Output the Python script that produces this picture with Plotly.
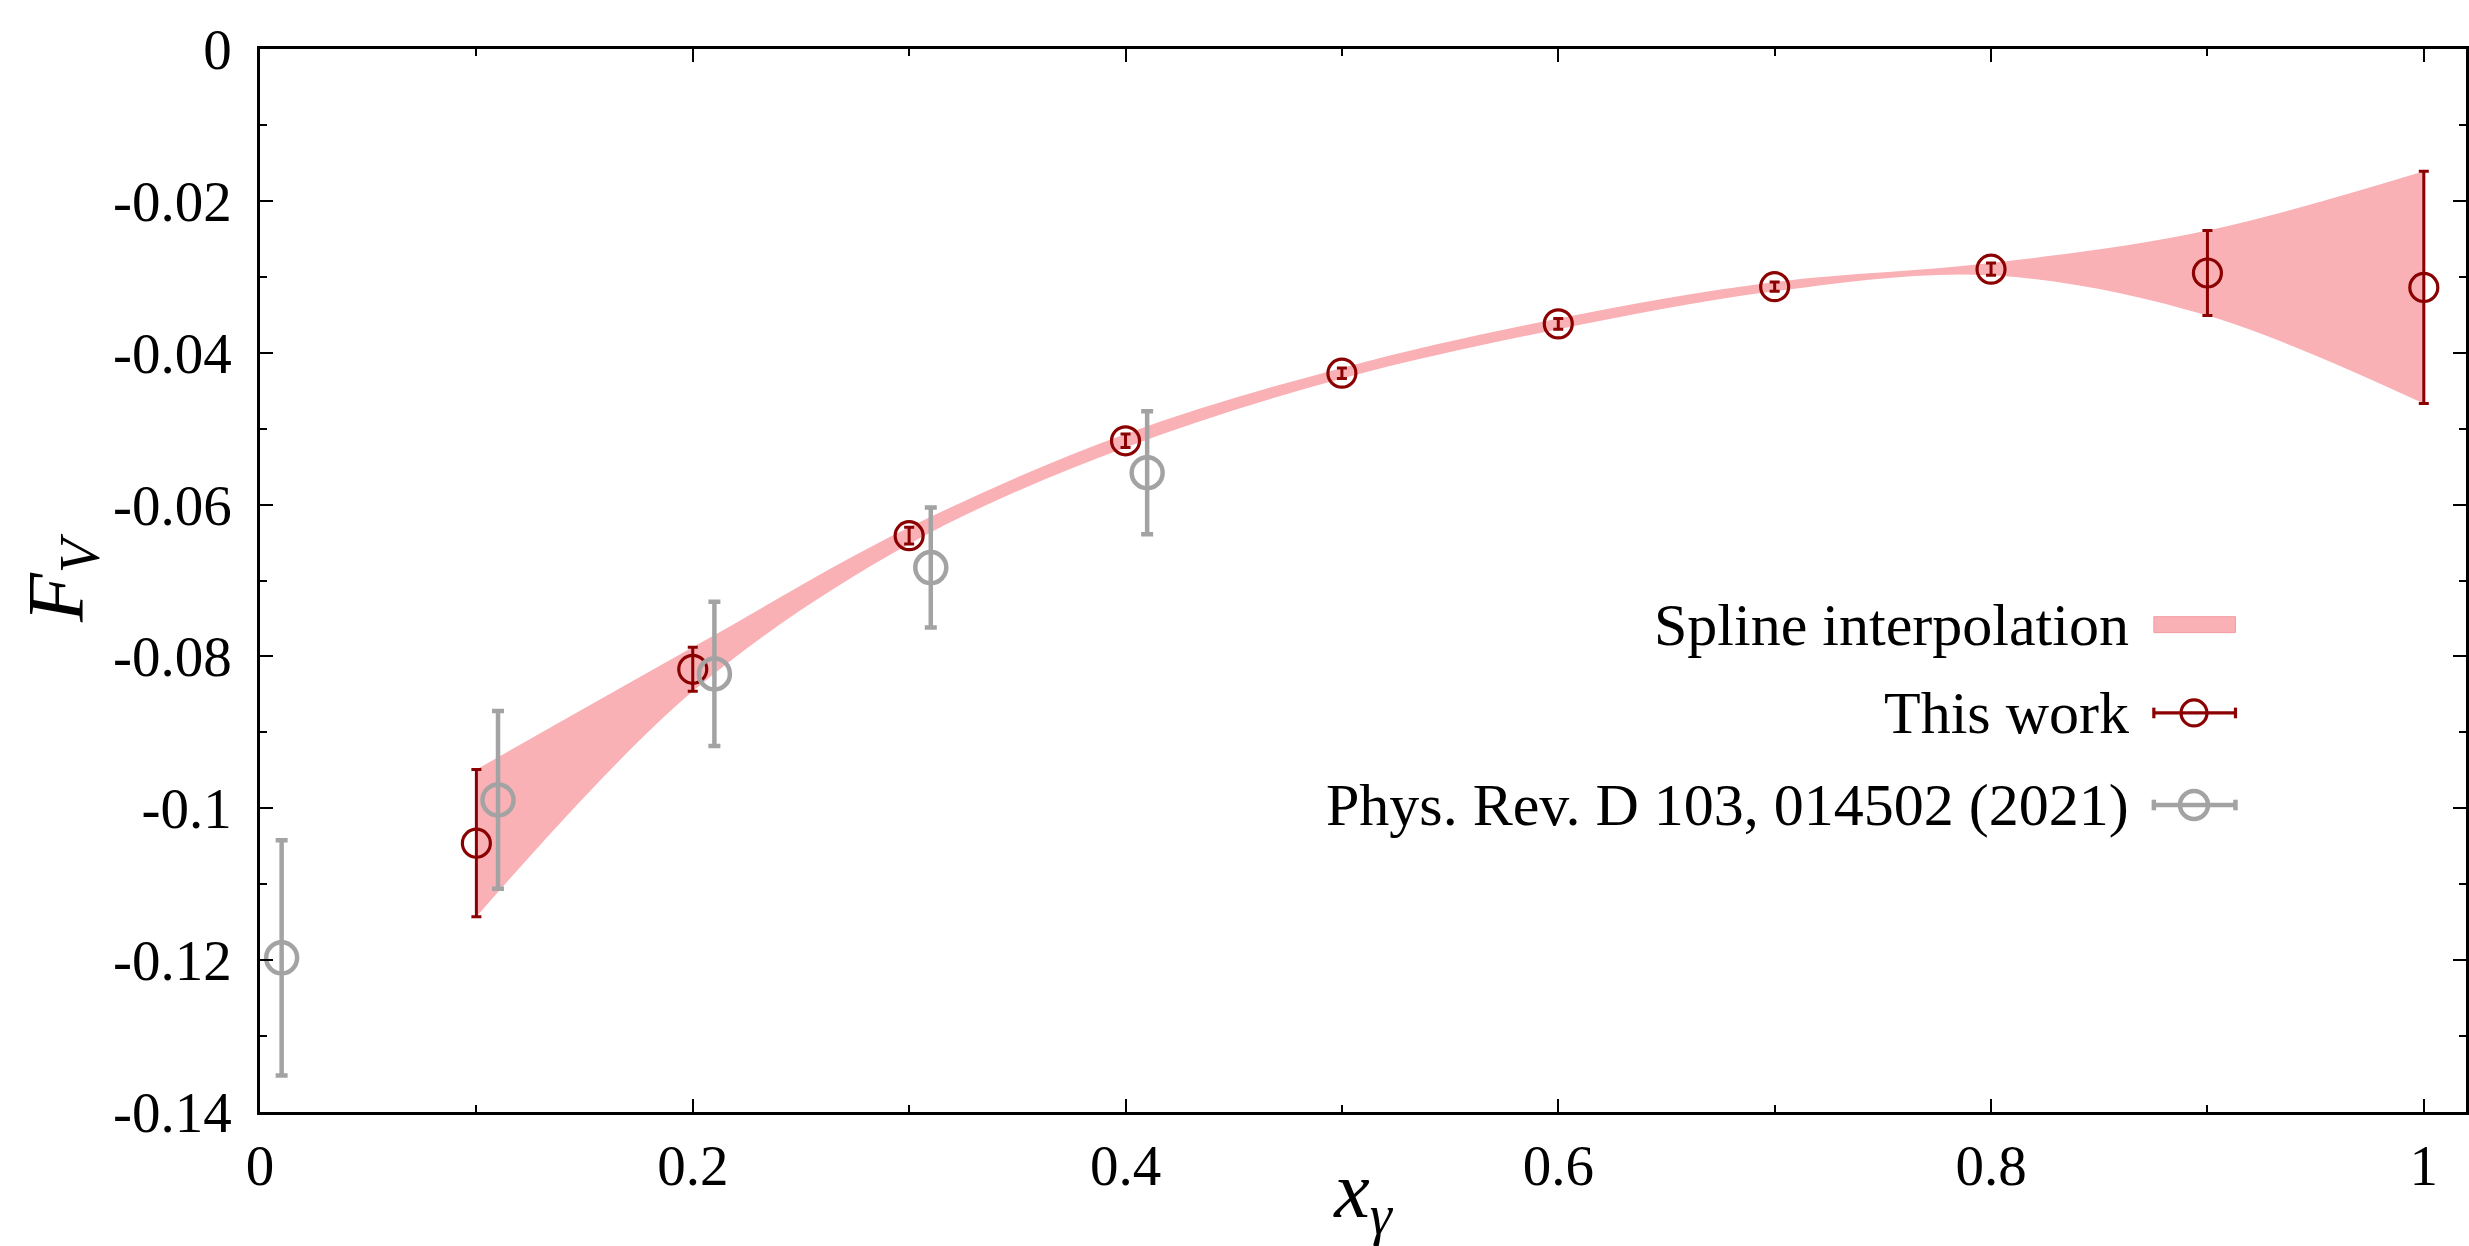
import plotly.graph_objects as go

# ---- data -------------------------------------------------------------
# This work: F_V(x_gamma) with statistical errors
x_this = [0.1, 0.2, 0.3, 0.4, 0.5, 0.6, 0.7, 0.8, 0.9, 1.0]
f_this = [-0.1046, -0.0817, -0.0641, -0.0516, -0.0427, -0.0362, -0.0313, -0.0290, -0.0295, -0.0314]
err_this = [0.0097, 0.0029, 0.0011, 0.0009, 0.0007, 0.0007, 0.0006, 0.0008, 0.0056, 0.0153]

# Phys. Rev. D 103, 014502 (2021), drawn slightly shifted in x
x_prd = [0.01, 0.11, 0.21, 0.31, 0.41]
f_prd = [-0.1197, -0.0989, -0.0823, -0.0683, -0.0558]
err_prd = [0.0155, 0.0117, 0.0095, 0.0079, 0.0081]

y_ticks = [0, -0.02, -0.04, -0.06, -0.08, -0.1, -0.12, -0.14]
y_ticktext = ["0", "-0.02", "-0.04", "-0.06", "-0.08", "-0.1", "-0.12", "-0.14"]
x_ticks = [0, 0.2, 0.4, 0.6, 0.8, 1.0]
x_ticktext = ["0", "0.2", "0.4", "0.6", "0.8", "1"]

labels = ["Spline interpolation", "This work", "Phys. Rev. D 103, 014502 (2021)"]

# ---- styles -----------------------------------------------------------
RED = "#8b0000"
GREY = "#a3a3a3"
BAND = "#f9b1b5"
FONT = "Liberation Serif"

band_hi = [f + e for f, e in zip(f_this, err_this)]
band_lo = [f - e for f, e in zip(f_this, err_this)]

fig = go.Figure()

# spline band (lower edge, then upper edge filled down to it)
fig.add_trace(go.Scatter(
    x=x_this, y=band_lo, mode="lines",
    line=dict(width=0, shape="spline", smoothing=1.0, color=BAND),
    hoverinfo="skip", showlegend=False,
))
fig.add_trace(go.Scatter(
    x=x_this, y=band_hi, mode="lines", fill="tonexty", fillcolor=BAND,
    line=dict(width=0, shape="spline", smoothing=1.0, color=BAND),
    hoverinfo="skip", showlegend=False,
))

# this work
fig.add_trace(go.Scatter(
    x=x_this, y=f_this, mode="markers",
    marker=dict(symbol="circle-open", size=28, color=RED, line=dict(width=3.2, color=RED)),
    error_y=dict(type="data", array=err_this, visible=True, color=RED, thickness=3, width=5),
    showlegend=False,
))

# earlier result
fig.add_trace(go.Scatter(
    x=x_prd, y=f_prd, mode="markers",
    marker=dict(symbol="circle-open", size=31, color=GREY, line=dict(width=4.5, color=GREY)),
    error_y=dict(type="data", array=err_prd, visible=True, color=GREY, thickness=4.5, width=6),
    showlegend=False,
))

# ---- hand-made legend (text on the left, symbol on the right) ----------
leg_rows = [0.4585, 0.3754, 0.2888]
sym_x0, sym_x1, sym_xc = 0.8585, 0.8955, 0.8767
text_x = 0.848
shapes = []
annotations = []
for lab, yr in zip(labels, leg_rows):
    annotations.append(dict(
        xref="paper", yref="paper", x=text_x, y=yr, xanchor="right", yanchor="middle",
        text=lab, showarrow=False, font=dict(family=FONT, size=60, color="black"),
    ))

# band swatch
shapes.append(dict(type="rect", xref="paper", yref="paper",
                   x0=sym_x0, x1=sym_x1, y0=leg_rows[0] - 0.0075, y1=leg_rows[0] + 0.0075,
                   fillcolor=BAND, line=dict(width=1, color="#f39ca2")))
# point + horizontal bar swatches
for yr, col, lw, r in [(leg_rows[1], RED, 3.2, 13), (leg_rows[2], GREY, 4.5, 14)]:
    shapes.append(dict(type="line", xref="paper", yref="paper",
                       x0=sym_x0, x1=sym_x1, y0=yr, y1=yr, line=dict(color=col, width=lw)))
    for xe in (sym_x0, sym_x1):
        shapes.append(dict(type="line", xref="paper", yref="paper",
                           x0=xe, x1=xe, y0=yr - 0.005, y1=yr + 0.005, line=dict(color=col, width=lw)))
    shapes.append(dict(type="circle", xref="paper", yref="paper",
                       xsizemode="pixel", ysizemode="pixel", xanchor=sym_xc, yanchor=yr,
                       x0=-r, x1=r, y0=-r, y1=r, line=dict(color=col, width=lw),
                       fillcolor="rgba(0,0,0,0)"))

axis_common = dict(
    showline=True, linecolor="black", linewidth=2.5, mirror="ticks",
    ticks="inside", tickcolor="black", tickwidth=2, showgrid=False, zeroline=False,
    automargin=False,
    tickfont=dict(family=FONT, size=57, color="black"),
)

fig.update_layout(
    width=2469, height=1246,
    margin=dict(l=260, r=3, t=49, b=134),
    plot_bgcolor="white", paper_bgcolor="white",
    shapes=shapes, annotations=annotations,
    xaxis=dict(
        range=[0, 1.0195], tickmode="array", tickvals=x_ticks, ticktext=x_ticktext,
        ticklen=13, ticklabelstandoff=2,
        minor=dict(tickmode="linear", tick0=0, dtick=0.1, ticklen=7, ticks="inside",
                   tickcolor="black", tickwidth=2, showgrid=False),
        title=dict(text="<i>x</i><sub><i>γ</i></sub>", font=dict(family=FONT, size=80, color="black"),
                   standoff=12),
        **axis_common,
    ),
    yaxis=dict(
        range=[-0.14, 0], tickmode="array", tickvals=y_ticks, ticktext=y_ticktext,
        ticklen=13, ticklabelstandoff=14,
        minor=dict(tickmode="linear", tick0=0, dtick=0.01, ticklen=7, ticks="inside",
                   tickcolor="black", tickwidth=2, showgrid=False),
        title=dict(text="<i>F</i><sub><i>V</i></sub>", font=dict(family=FONT, size=80, color="black"),
                   standoff=4),
        **axis_common,
    ),
)

fig.write_html("out.html")
